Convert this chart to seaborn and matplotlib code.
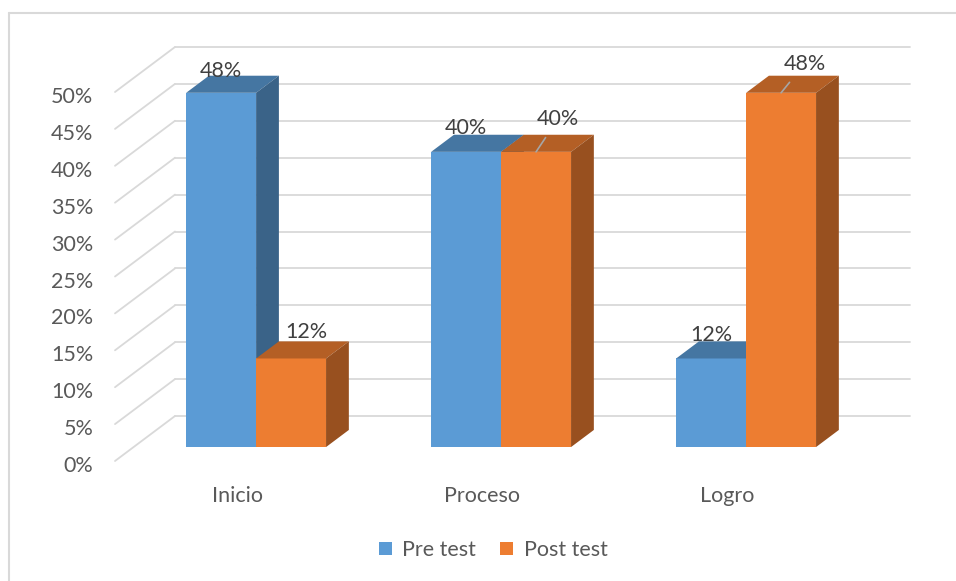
import matplotlib
matplotlib.use('Agg')
import matplotlib.pyplot as plt
import seaborn as sns
import pandas as pd
from matplotlib.patches import Polygon
from matplotlib.lines import Line2D
from matplotlib.transforms import ScaledTranslation

# Datos
niveles = ['Inicio', 'Proceso', 'Logro']
pre_test = [48, 40, 12]
post_test = [12, 40, 48]
valores_eje = [0, 5, 10, 15, 20, 25, 30, 35, 40, 45, 50]

# Colores
azul = '#5B9BD5'
naranja = '#ED7D31'

sns.set_style('white')
plt.rcParams['font.family'] = ['Lato', 'DejaVu Sans']

df = pd.DataFrame({
    'Nivel': niveles * 2,
    'Prueba': ['Pre test'] * 3 + ['Post test'] * 3,
    'Porcentaje': pre_test + post_test,
})

W, H = 956, 581
fig = plt.figure(figsize=(W / 100, H / 100), dpi=100)
ax = fig.add_axes([115 / W, (H - 461) / H, 735 / W, 369 / H])

sns.barplot(data=df, x='Nivel', y='Porcentaje', hue='Prueba', hue_order=['Pre test', 'Post test'],
            palette=[azul, naranja], saturation=1, width=0.571, edgecolor='none', linewidth=0,
            errorbar=None, ax=ax)
ax.set_xlim(-0.5, 2.5)
ax.set_ylim(0, 50)

# Profundidad (efecto 3D): desplazamiento total de la pared del fondo
DX = 60 / 245      # en categorías
DY = 45 / 7.38     # en porcentaje
f1, f2 = 0.31, 0.69
gris = '#D9D9D9'

# Pared del fondo y pared lateral
for v in valores_eje:
    ax.plot([-0.5 + DX, 2.5 + DX], [v + DY, v + DY], color=gris, lw=1.3, clip_on=False, zorder=0.5)
    ax.plot([-0.5, -0.5 + DX], [v, v + DY], color=gris, lw=1.3, clip_on=False, zorder=0.5)


def oscurecer(c, k):
    r, g, b = matplotlib.colors.to_rgb(c)
    return (r * k, g * k, b * k)


barras = []
for cont in ax.containers:
    for p in cont.patches:
        barras.append(p)
barras.sort(key=lambda p: p.get_x())

dxb = (f2 - f1) * DX
dyb = (f2 - f1) * DY
tops = []
for i, p in enumerate(barras):
    x0 = p.get_x() + f1 * DX
    w = p.get_width()
    h = p.get_height()
    y0 = f1 * DY
    p.set_x(x0)
    p.set_y(y0)
    p.set_clip_on(False)
    z = 2 + i
    p.set_zorder(z)
    col = p.get_facecolor()
    top = Polygon([(x0, y0 + h), (x0 + w, y0 + h), (x0 + w + dxb, y0 + h + dyb), (x0 + dxb, y0 + h + dyb)],
                  closed=True, facecolor=oscurecer(col, 0.76), edgecolor='none', clip_on=False, zorder=z)
    lado = Polygon([(x0 + w, y0), (x0 + w, y0 + h), (x0 + w + dxb, y0 + h + dyb), (x0 + w + dxb, y0 + dyb)],
                   closed=True, facecolor=oscurecer(col, 0.64), edgecolor='none', clip_on=False, zorder=z)
    ax.add_patch(top)
    ax.add_patch(lado)
    tops.append((x0 + w / 2, y0 + h, h))

# Etiquetas de datos (desplazamiento en puntos y línea guía)
ajustes = [(0, 16, False), (11, 19, False), (0, 17, False), (16, 24, True), (0, 17, False), (17, 21, True)]
for (cx, cy, h), (ox, oy, guia) in zip(tops, ajustes):
    props = None
    if guia:
        props = dict(arrowstyle='-', color='#A6A6A6', lw=1.2, shrinkA=5, shrinkB=0)
    ax.annotate(f'{h:.0f}%', xy=(cx, cy), xytext=(ox, oy), textcoords='offset points',
                ha='center', va='center', fontsize=15.5, color='#404040',
                arrowprops=props, annotation_clip=False, zorder=20)

ax.set_yticks(valores_eje)
ax.set_yticklabels([f'{v}%' for v in valores_eje])
ax.tick_params(axis='y', length=0, pad=15.5, labelsize=15.5, labelcolor='#595959')
ax.tick_params(axis='x', length=0, pad=18, labelsize=15.5, labelcolor='#595959')
ax.set_xlabel('')
ax.set_ylabel('')
for s in ax.spines.values():
    s.set_visible(False)
ax.grid(False)
ax.set_facecolor('none')
for lbl in ax.get_yticklabels():
    lbl.set_transform(lbl.get_transform() + ScaledTranslation(0, -3 / 100, fig.dpi_scale_trans))

sns.move_legend(ax, 'center', bbox_to_anchor=((493 - 115) / 735, (461 - 550) / 369), ncol=2,
                frameon=False, title=None, fontsize=15.5, handlelength=0.6, handleheight=0.6,
                handletextpad=0.5, columnspacing=1.1)
for t in ax.get_legend().get_texts():
    t.set_color('#595959')

# Borde del área del gráfico
fig.add_artist(Line2D([9 / W, 1], [1 - 13 / H, 1 - 13 / H], color=gris, lw=1.5))
fig.add_artist(Line2D([9 / W, 9 / W], [0, 1 - 13 / H], color=gris, lw=1.5))

fig.savefig('out.png', dpi=100)
